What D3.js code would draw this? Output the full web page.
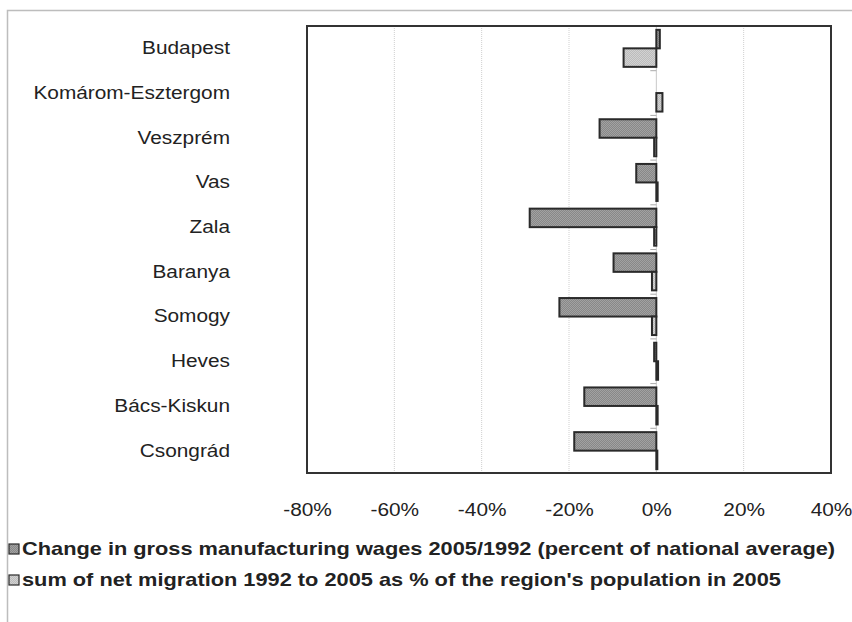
<!DOCTYPE html>
<html>
<head>
<meta charset="utf-8">
<script src="https://cdn.jsdelivr.net/npm/d3@7"></script>
<style>
  html, body { margin: 0; padding: 0; background: #fff; }
  svg { display: block; }
  text { font-family: "Liberation Sans", Arial, sans-serif; fill: #222; }
</style>
</head>
<body>
<svg id="chart" width="852" height="622"></svg>
<script>
const categories = ["Budapest", "Komárom-Esztergom", "Veszprém", "Vas", "Zala",
                    "Baranya", "Somogy", "Heves", "Bács-Kiskun", "Csongrád"];
const wages =     [0.8, 0.0, -13.0, -4.6, -29.0, -9.8, -22.2, -0.5, -16.5, -18.8];
const migration = [-7.5, 1.4, -0.5, 0.3, -0.5, -1.0, -1.0, 0.4, 0.3, 0.2];
const seriesNames = ["Change in gross manufacturing wages 2005/1992 (percent of national average)",
                     "sum of net migration 1992 to 2005 as % of the region's population in 2005"];
const xTicks = [-80, -60, -40, -20, 0, 20, 40];

const svg = d3.select("#chart");
const W = 852, H = 622;
const plot = {left: 307, right: 831, top: 26, bottom: 473};
const SX = 1.19; // horizontal stretch of the text in the reference

// patterns
const defs = svg.append("defs");
function pat(id, c1, c2) {
  const p = defs.append("pattern").attr("id", id).attr("width", 2).attr("height", 2)
    .attr("patternUnits", "userSpaceOnUse");
  p.append("rect").attr("width", 2).attr("height", 2).attr("fill", c1);
  p.append("rect").attr("width", 1).attr("height", 1).attr("fill", c2);
  p.append("rect").attr("x", 1).attr("y", 1).attr("width", 1).attr("height", 1).attr("fill", c2);
}
pat("pDark", "#888888", "#a2a2a2");
pat("pLight", "#bcbcbc", "#d2d2d2");
const fills = ["url(#pDark)", "url(#pLight)"];
const values = [wages, migration];

// outer frame
svg.append("path").attr("d", `M7.5,${H} V10.5 H${W}`).attr("fill", "none")
  .attr("stroke", "#bdbdbd").attr("stroke-width", 1.5);

const x = d3.scaleLinear().domain([-80, 40]).range([plot.left, plot.right]);
const y = d3.scaleBand().domain(categories).range([plot.top, plot.bottom]).padding(0);
const bw = y.bandwidth();
const inner = d3.scaleBand().domain([0, 1]).range([bw * 0.086, bw * 0.914]).padding(0);

// gridlines
svg.append("g").selectAll("line").data(xTicks.filter(t => t !== -80 && t !== 40 && t !== 0))
  .join("line")
  .attr("x1", d => x(d)).attr("x2", d => x(d))
  .attr("y1", plot.top).attr("y2", plot.bottom)
  .attr("stroke", "#cfcfcf").attr("stroke-width", 1).attr("stroke-dasharray", "1,1");

// zero axis line
svg.append("line").attr("x1", x(0)).attr("x2", x(0)).attr("y1", plot.top).attr("y2", plot.bottom)
  .attr("stroke", "#c8c8c8").attr("stroke-width", 1);
// category boundary ticks on zero axis
svg.append("g").selectAll("line").data(categories.slice(1))
  .join("line")
  .attr("x1", x(0) - 6).attr("x2", x(0))
  .attr("y1", d => y(d)).attr("y2", d => y(d))
  .attr("stroke", "#aaa").attr("stroke-width", 1);

// bars
[0, 1].forEach(s => {
  svg.append("g").selectAll("rect").data(categories.map((c, i) => ({c, v: values[s][i]})))
    .join("rect")
    .filter(d => d.v !== 0)
    .attr("x", d => Math.min(x(0), x(d.v)))
    .attr("width", d => Math.max(1, Math.abs(x(d.v) - x(0))))
    .attr("y", d => y(d.c) + inner(s))
    .attr("height", inner.bandwidth())
    .attr("fill", fills[s])
    .attr("stroke", "#2a2a2a").attr("stroke-width", 2);
});

// plot border
svg.append("rect").attr("x", plot.left).attr("y", plot.top)
  .attr("width", plot.right - plot.left).attr("height", plot.bottom - plot.top)
  .attr("fill", "none").attr("stroke", "#333").attr("stroke-width", 2);

// category labels (stretched horizontally like the reference)
svg.append("g").selectAll("text").data(categories).join("text")
  .attr("transform", d => `translate(230,${y(d) + bw / 2}) scale(${SX},1)`)
  .attr("text-anchor", "end").attr("dominant-baseline", "central")
  .attr("font-size", 17.5).text(d => d);

// x tick labels
const xAxis = d3.axisBottom(x).tickValues(xTicks).tickFormat(d => d + "%").tickSize(0).tickPadding(0);
const gx = svg.append("g").attr("transform", `translate(0,${plot.bottom})`).call(xAxis);
gx.select(".domain").remove();
gx.selectAll("text").attr("y", null).attr("dy", null)
  .attr("transform", `translate(0,37) scale(${SX},1)`)
  .attr("dominant-baseline", "central")
  .attr("font-size", 17.5)
  .attr("font-family", "Liberation Sans, Arial, sans-serif").attr("fill", "#222");

// legend
const leg = svg.append("g");
seriesNames.forEach((name, i) => {
  const ly = 549 + i * 31;
  leg.append("rect").attr("x", 9).attr("y", ly - 5).attr("width", 10).attr("height", 10)
    .attr("fill", fills[i]).attr("stroke", "#2a2a2a").attr("stroke-width", 1.2);
  leg.append("text").attr("transform", `translate(22,${ly}) scale(${SX},1)`)
    .attr("dominant-baseline", "central")
    .attr("font-size", 18.3).attr("font-weight", "bold").text(name);
});
</script>
</body>
</html>
